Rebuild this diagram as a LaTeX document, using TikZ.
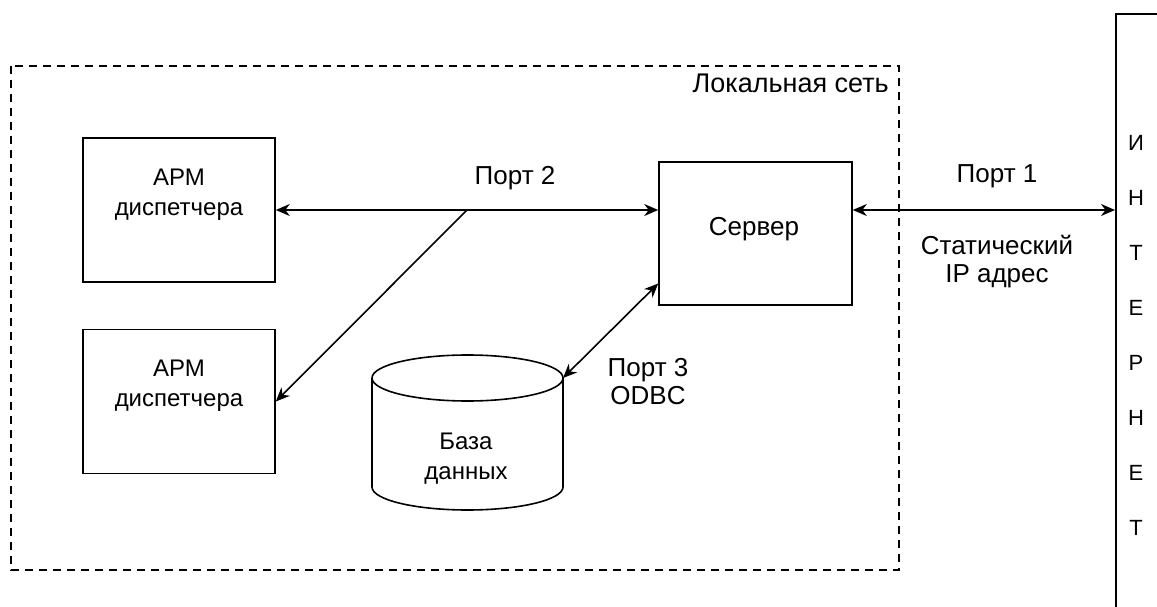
\documentclass[tikz,border=0pt]{standalone}
\usepackage{fontspec}
\setmainfont{Liberation Sans}
\usetikzlibrary{arrows.meta,calc}
\begin{document}
\begin{tikzpicture}[x=1pt,y=-1pt,
  stroke/.style={line width=1.6pt},
  box/.style={draw, stroke, minimum width=192pt, minimum height=144pt, inner sep=0pt},
  lbl/.style={font=\fontsize{24}{30}\selectfont, align=center, inner sep=0pt},
  big/.style={lbl, font=\fontsize{26}{28}\selectfont},
  tip/.tip={Stealth[length=14pt,width=12pt,inset=4.5pt]},
  link/.style={stroke, tip-tip},
  feed/.style={stroke, -tip},
  lan/.style={draw, stroke, dash pattern=on 8pt off 6pt}]
\useasboundingbox (0,0) rectangle (1157,607);

% local network boundary
\draw[lan] (11,66) rectangle (899,570);
\node[big, anchor=base east, font=\fontsize{27}{30}\selectfont] (lanlbl) at (889,93) {Локальная сеть};

% workstations and server
\node[box] (a1) at (179,210) {};
\node[lbl] (a1t) at (179,195) {АРМ\\диспетчера};
\node[box] (a2) at (179,401.5) {};
\node[lbl] (a2t) at (179,386) {АРМ\\диспетчера};
\node[box, minimum width=193pt, minimum height=143pt] (srv) at (755.5,233.5) {};
\node[big] (srvt) at (754,229) {Сервер};

% database cylinder
\draw[stroke, fill=white] (372,378) -- (372,487)
  arc[start angle=180, end angle=0, x radius=95.5, y radius=23] -- (563,378);
\draw[stroke] (467.5,378) ellipse [x radius=95.5, y radius=23];
\coordinate (dbtr) at (563,378);
\node[lbl] (dbt) at (466,459) {База\\данных};

% internet column
\begin{scope}
  \clip (0,0) rectangle (1157,607);
  \node[draw, stroke, anchor=north west, minimum width=120pt, minimum height=650pt] (inet) at (1115,13) {};
\end{scope}
\foreach \ch [count=\i from 0] in {И,Н,Т,Е,Р,Н,Е,Т}
  \node[lbl, font=\fontsize{22}{26}\selectfont] (inet\i) at (1136,143+55*\i) {\ch};

% connectors
\coordinate (fork) at (467,210);
\coordinate (srvdb) at ($(srv.south west)!0.154!(srv.north west)$);
\draw[link] (a1.east) -- (srv.west |- a1.east);
\draw[feed] (fork) -- (a2.east);
\draw[link] (srvdb) -- (dbtr);
\draw[link] (srv.east |- a1.east) -- (inet.west |- a1.east);

% labels
\node[big] (p2) at (515,178) {Порт 2};
\node[big] (p1) at (997,176) {Порт 1};
\node[big] (ip) at (997,262) {Статический\\IP адрес};
\node[big] (p3) at (648,382) {Порт 3\\ODBC};
\end{tikzpicture}
\end{document}
